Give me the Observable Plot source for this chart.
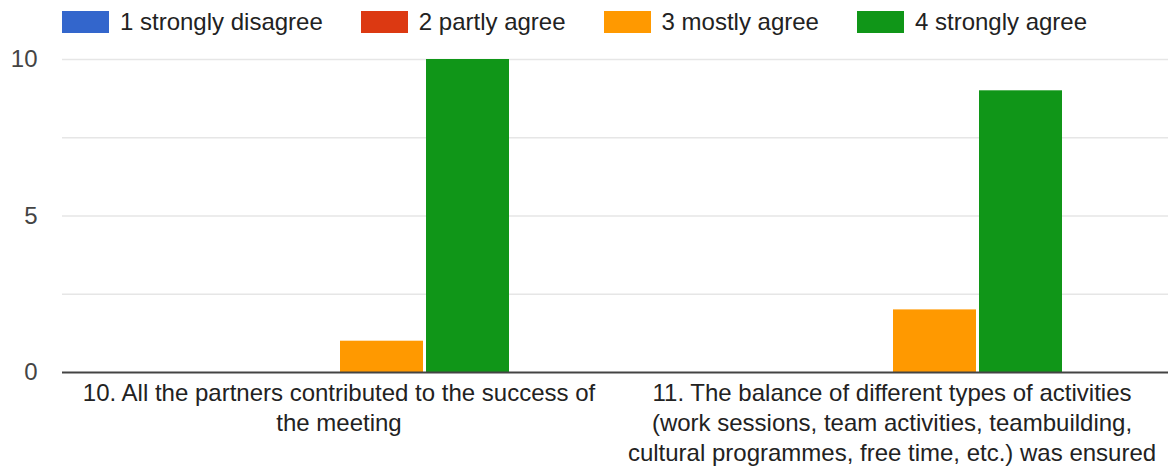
<!DOCTYPE html>
<html>
<head>
<meta charset="utf-8">
<script src="https://cdn.jsdelivr.net/npm/d3@7"></script>
<script src="https://cdn.jsdelivr.net/npm/@observablehq/plot@0.6"></script>
<style>
  html, body { margin: 0; padding: 0; background: #fff; }
  body { width: 1168px; height: 468px; overflow: hidden; font-family: "Liberation Sans", Arial, sans-serif; }
  #legend { display: flex; align-items: center; height: 44px; padding-left: 62px; box-sizing: border-box; }
  .item { display: flex; align-items: center; margin-right: 38px; font-size: 24px; color: #222; }
  .sw { width: 47px; height: 22px; margin-right: 11px; box-sizing: border-box; }
</style>
</head>
<body>
<div id="legend"></div>
<div id="chart"></div>
<script>
const questions = [
  "10. All the partners contributed to the success of the meeting",
  "11. The balance of different types of activities (work sessions, team activities, teambuilding, cultural programmes, free time, etc.) was ensured"
];
const questionLabels = [
  "10. All the partners contributed to the success of\nthe meeting",
  "11. The balance of different types of activities\n(work sessions, team activities, teambuilding,\ncultural programmes, free time, etc.) was ensured"
];
const answers = ["1 strongly disagree", "2 partly agree", "3 mostly agree", "4 strongly agree"];
const colors = ["#3366cc", "#dc3912", "#ff9900", "#109618"];
const counts = [
  [0, 0, 1, 10],
  [0, 0, 2, 9]
];
const yTicks = [0, 5, 10];
const gridTicks = [2.5, 5, 7.5, 10];

const data = [];
questions.forEach((q, i) => answers.forEach((a, j) => data.push({question: q, answer: a, count: counts[i][j]})));

const legend = document.getElementById("legend");
answers.forEach((a, j) => {
  const it = document.createElement("div");
  it.className = "item";
  const sw = document.createElement("div");
  sw.className = "sw";
  sw.style.background = colors[j];
  it.appendChild(sw);
  const t = document.createElement("span");
  t.textContent = a;
  it.appendChild(t);
  legend.appendChild(it);
});

const labelOf = new Map(questions.map((q, i) => [q, questionLabels[i]]));

const chart = Plot.plot({
  width: 1168,
  height: 424,
  marginLeft: 62,
  marginRight: 0,
  marginTop: 15,
  marginBottom: 96,
  style: {fontFamily: "'Liberation Sans', Arial, sans-serif", background: "#fff"},
  fx: {domain: questions, padding: 0, label: null},
  x: {domain: answers, axis: null, paddingInner: 0.035, paddingOuter: 1.2},
  y: {domain: [0, 10], axis: null},
  color: {domain: answers, range: colors},
  marks: [
    Plot.ruleY(gridTicks, {stroke: "#e6e6e6", strokeWidth: 1.5}),
    Plot.barY(data, {fx: "question", x: "answer", y: "count", fill: "answer", inset: 0}),
    Plot.ruleY([0], {stroke: "#444", strokeWidth: 2}),
    Plot.axisY({ticks: yTicks, tickSize: 0, tickPadding: 25, fontSize: 24, color: "#444", label: null, facetAnchor: "left"}),
    Plot.axisFx({anchor: "bottom", tickSize: 0, tickPadding: 7, fontSize: 24, color: "#222", lineHeight: 1.25, label: null, tickFormat: d => labelOf.get(d)})
  ]
});
document.getElementById("chart").appendChild(chart);
</script>
</body>
</html>
